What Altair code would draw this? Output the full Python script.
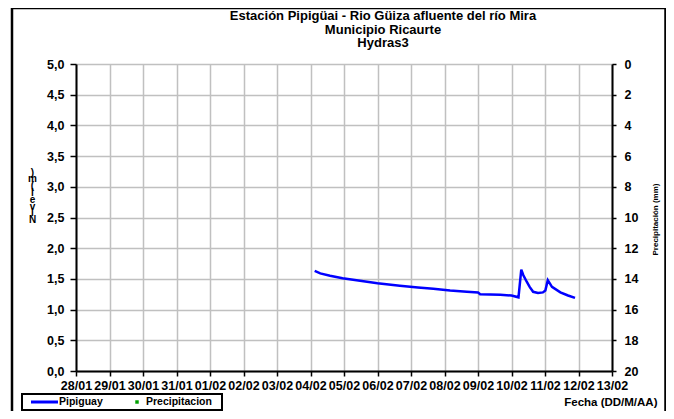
import altair as alt
import pandas as pd

# ---- data ----
fechas = [
    "2013-02-04T03:00", "2013-02-04T07:00", "2013-02-04T14:00", "2013-02-04T23:00",
    "2013-02-05T11:30", "2013-02-06T00:00", "2013-02-06T16:00", "2013-02-07T05:00",
    "2013-02-07T16:00", "2013-02-08T04:00", "2013-02-08T16:00", "2013-02-09T00:00",
    "2013-02-09T01:30", "2013-02-09T16:00", "2013-02-10T00:00", "2013-02-10T05:00",
    "2013-02-10T07:00", "2013-02-10T08:30", "2013-02-10T11:00", "2013-02-10T13:00",
    "2013-02-10T15:30", "2013-02-10T19:00", "2013-02-10T22:30", "2013-02-11T00:15",
    "2013-02-11T02:00", "2013-02-11T05:00", "2013-02-11T11:00", "2013-02-11T16:30",
    "2013-02-11T21:30",
]
nivel = [
    1.63, 1.59, 1.55, 1.51,
    1.47, 1.43, 1.39, 1.36,
    1.34, 1.31, 1.29, 1.28,
    1.25, 1.24, 1.23, 1.20,
    1.65, 1.56, 1.45, 1.37,
    1.29, 1.27, 1.28, 1.31,
    1.48, 1.37, 1.28, 1.23,
    1.19,
]
precip_fechas = []
precip_mm = []

titulo = ["Estación Pipigüai - Rio Güiza afluente del río Mira",
          "Municipio Ricaurte", "Hydras3"]
serie_nivel = "Pipiguay"
serie_precip = "Precipitacion"
x_inicio = "2013-01-28T00:00"
x_fin = "2013-02-13T00:00"
y_ticks = [i * 0.5 for i in range(11)]
p_ticks = list(range(0, 21, 2))

FONT = "Liberation Sans"
LBL = 12.5

df = pd.DataFrame({"fecha": pd.to_datetime(fechas), "nivel": nivel})
dp = pd.DataFrame({"fecha": pd.to_datetime(pd.Series(precip_fechas, dtype="object")),
                   "precip": pd.Series(precip_mm, dtype="float")})
one = pd.DataFrame({"k": [0]})

xenc = alt.X(
    "fecha:T",
    scale=alt.Scale(domain=[x_inicio, x_fin]),
    axis=alt.Axis(
        format="%d/%m", tickCount={"interval": "day", "step": 1},
        labelFont=FONT, labelFontSize=LBL, labelFontWeight="bold", labelColor="black",
        labelOverlap=False, labelFlush=False, labelPadding=3,
        tickSize=5, tickColor="black", tickWidth=1.5,
        domainColor="black", domainWidth=2,
        grid=True, gridColor="#C0C0C0", gridWidth=1.5,
        title="Fecha (DD/M/AA)", titleFont=FONT, titleFontSize=11.5, titleFontWeight="bold",
        titleAlign="right", titleAnchor="end", titleX=581, titleY=31, titleBaseline="middle",
    ),
)

linea = alt.Chart(df).mark_line(color="#0000FF", strokeWidth=2.5, clip=True).encode(
    x=xenc,
    y=alt.Y(
        "nivel:Q",
        scale=alt.Scale(domain=[0, 5], nice=False, zero=False),
        axis=alt.Axis(
            values=y_ticks,
            labelExpr="replace(format(datum.value, '.1f'), '.', ',')",
            labelFont=FONT, labelFontSize=LBL, labelFontWeight="bold", labelColor="black",
            labelPadding=6, tickSize=6, tickColor="black", tickWidth=1.5,
            domainColor="black", domainWidth=2,
            grid=True, gridColor="#C0C0C0", gridWidth=1.5,
            title=[")", "m", "(", "l", "e", "v", "i", "N"],
            titleFont=FONT, titleFontSize=10, titleFontWeight="bold", titleAngle=0,
            titleLineHeight=6.8, titleX=-44, titleY=103, titleAlign="center",
            titleBaseline="top",
        ),
    ),
)

lluvia = alt.Chart(dp).mark_point(color="#00A000", shape="square", filled=True, size=12).encode(
    x=alt.X("fecha:T", scale=alt.Scale(domain=[x_inicio, x_fin])),
    y=alt.Y(
        "precip:Q",
        scale=alt.Scale(domain=[0, 20], reverse=True, nice=False),
        axis=alt.Axis(
            orient="right", values=p_ticks,
            labelFont=FONT, labelFontSize=LBL, labelFontWeight="bold", labelColor="black",
            labelPadding=8, tickSize=4, tickColor="black", tickWidth=1.5,
            domainColor="black", domainWidth=2, grid=False,
            title="Precipitación (mm)", titleFont=FONT, titleFontSize=8,
            titleFontWeight="bold", titleAngle=270, titleX=43, titleY=155,
            titleAlign="center", titleBaseline="middle",
        ),
    ),
)

# chart title lines
def linea_titulo(texto, y):
    return alt.Chart(one).mark_text(font=FONT, fontSize=13, fontWeight="bold", align="center",
                                    baseline="middle", color="black").encode(
        x=alt.value(307), y=alt.value(y), text=alt.value(texto))

t1 = linea_titulo(titulo[0], -48)
t2 = linea_titulo(titulo[1], -34.5)
t3 = linea_titulo(titulo[2], -21)

# outer frame and legend box (decoration)
marco = alt.Chart(one).mark_rect(fill=None, stroke="black", strokeWidth=2.5).encode(
    x=alt.value(-64), x2=alt.value(589.5), y=alt.value(-56), y2=alt.value(365))
caja = alt.Chart(one).mark_rect(fill=None, stroke="black", strokeWidth=2).encode(
    x=alt.value(-54), x2=alt.value(146), y=alt.value(330), y2=alt.value(346))
ley_linea = alt.Chart(one).mark_rule(color="#0000FF", strokeWidth=3).encode(
    x=alt.value(-45), x2=alt.value(-18), y=alt.value(338))
ley_txt1 = alt.Chart(one).mark_text(font=FONT, fontSize=10.5, fontWeight="bold", align="left",
                                    baseline="middle").encode(
    x=alt.value(-17), y=alt.value(338), text=alt.value(serie_nivel))
ley_pt = alt.Chart(one).mark_point(shape="square", filled=True, color="#00A000", size=12,
                                   opacity=1).encode(x=alt.value(61), y=alt.value(338))
ley_txt2 = alt.Chart(one).mark_text(font=FONT, fontSize=10.5, fontWeight="bold", align="left",
                                    baseline="middle").encode(
    x=alt.value(70), y=alt.value(338), text=alt.value(serie_precip))

chart = alt.layer(linea, lluvia, marco, caja, ley_linea, ley_txt1, ley_pt, ley_txt2,
                  t1, t2, t3).resolve_scale(
    y="independent"
).properties(
    width=536, height=307,
    autosize=alt.AutoSizeParams(type="none"),
    padding={"left": 68, "top": 56, "right": 54, "bottom": 40},
).configure_view(stroke=None).configure(background="white")

chart.save("out.html", embed_options={"renderer": "svg", "actions": False})
